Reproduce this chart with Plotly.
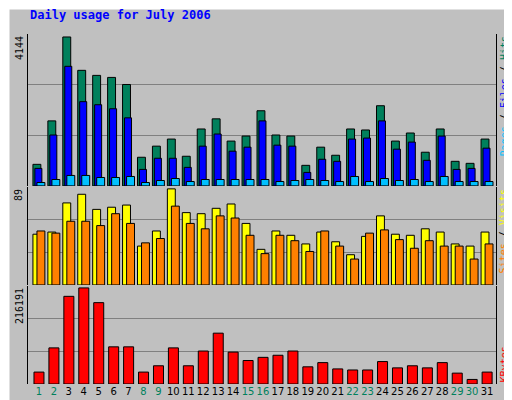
import plotly.graph_objects as go

days = list(range(1, 32))
hits = [600,1809,4144,3216,3075,3019,2822,797,1106,1303,825,1584,1866,1247,1387,2091,1416,1387,572,1078,853,1584,1556,2231,1247,1472,937,1584,684,628,1303]
files = [487,1416,3328,2344,2259,2147,1894,459,769,769,516,1106,1444,966,1078,1809,1134,1106,375,741,684,1303,1331,1809,1022,1219,712,1387,459,487,1050]
pages = [94,178,291,291,234,234,262,94,150,206,122,178,178,178,178,178,122,150,178,150,122,262,122,206,150,178,122,262,122,122,122]
visits = [47,49,76,84,70,72,74,36,50,89,67,66,71,75,57,33,50,46,38,49,40,28,45,64,47,46,52,49,38,36,49]
sites = [50,48,59,59,55,66,57,39,43,73,57,52,64,62,46,29,46,41,31,50,36,24,48,51,42,34,41,36,36,24,38]
kbytes = [26826,81267,197250,216191,183048,83634,83634,26826,41028,81267,41028,74166,114405,71799,52863,59964,64698,74166,38661,48129,33927,31560,31560,50496,36294,41028,36294,48129,24459,10257,26826]
weekend = [1,2,8,9,15,16,22,23,29,30]
ticktext = [f'<span style="color:#00805C">{d}</span>' if d in weekend else str(d) for d in days]

BG = "#C0C0C0"
fig = go.Figure()
ln = dict(color="black", width=1)
def bar(y, color, off, w, ax):
    fig.add_trace(go.Bar(x=days, y=y, marker=dict(color=color, line=ln), offset=off,
                         width=w, xaxis="x", yaxis=ax, showlegend=False))
bar(hits, "#00805C", -0.4, 0.53, "y3")
bar(files, "#0000FF", -0.27, 0.47, "y3")
bar(pages, "#00C0FF", -0.13, 0.53, "y3")
bar(visits, "#FFFF00", -0.4, 0.53, "y2")
bar(sites, "#FF8000", -0.13, 0.53, "y2")
bar(kbytes, "#FF0000", -0.33, 0.67, "y")

def yax(dom, mx):
    R = mx * 1.02
    return dict(domain=dom, range=[0, R], tickvals=[R/3, 2*R/3], showticklabels=False,
                showgrid=True, gridcolor="#808080", gridwidth=1, zeroline=False,
                showline=True, mirror=True, linecolor="black", linewidth=1, ticks="")

mono = "DejaVu Sans Mono"
fig.update_layout(
    width=512, height=400, margin=dict(l=20, r=24, t=26, b=24),
    paper_bgcolor=BG, plot_bgcolor=BG, barmode="overlay",
    font=dict(family=mono, size=11, color="black"),
    xaxis=dict(range=[0.27, 31.6], tickvals=days, ticktext=ticktext, showgrid=False,
               zeroline=False, ticks="", anchor="y", tickangle=0,
               tickfont=dict(family="DejaVu Sans", size=10)),
    yaxis=yax([0, 0.28], max(kbytes)),
    yaxis2=yax([0.283, 0.563], max(visits)),
    yaxis3=yax([0.566, 1], max(hits)),
)
ann = [
    dict(text="<b>Daily usage for July 2006</b>", x=0, y=1.055, xanchor="left", yanchor="middle",
         font=dict(color="#0000FF", size=12, family=mono)),
    dict(text=str(max(hits)), x=-0.003, y=1, xanchor="right", yanchor="top", textangle=-90),
    dict(text=str(max(visits)), x=-0.003, y=0.563, xanchor="right", yanchor="top", textangle=-90),
    dict(text=str(max(kbytes)), x=-0.003, y=0.28, xanchor="right", yanchor="top", textangle=-90),
    dict(text='<span style="color:#00C0FF">Pages</span> / <span style="color:#0000FF">Files</span> / <span style="color:#00805C">Hits</span>',
         x=1.002, y=1, xanchor="left", yanchor="top", textangle=-90),
    dict(text='<span style="color:#FF8000">Sites</span> / <span style="color:#FFFF00">Visits</span>',
         x=1.002, y=0.563, xanchor="left", yanchor="top", textangle=-90),
    dict(text='<span style="color:#FF0000">KBytes</span>', x=1.002, y=0, xanchor="left", yanchor="bottom", textangle=-90),
]
for a in ann:
    a.update(xref="paper", yref="paper", showarrow=False)
    a.setdefault("font", dict(family=mono, size=10, color="black"))
fig.update_layout(annotations=ann)
W, H = 468, 350
def px(x): return (x - 20) / W
def py(y): return (376 - y) / H
shapes = [
    dict(type="line", x0=px(0.5), x1=px(511), y0=py(0.5), y1=py(0.5), line=dict(color="white", width=2)),
    dict(type="line", x0=px(0.5), x1=px(0.5), y0=py(0), y1=py(399), line=dict(color="white", width=2)),
    dict(type="line", x0=px(511), x1=px(511), y0=py(0), y1=py(399), line=dict(color="#808080", width=2)),
    dict(type="line", x0=px(0), x1=px(511), y0=py(399), y1=py(399), line=dict(color="#808080", width=2)),
]
for s in shapes:
    s.update(xref="paper", yref="paper")
fig.update_layout(shapes=shapes)
fig.write_html("out.html")
